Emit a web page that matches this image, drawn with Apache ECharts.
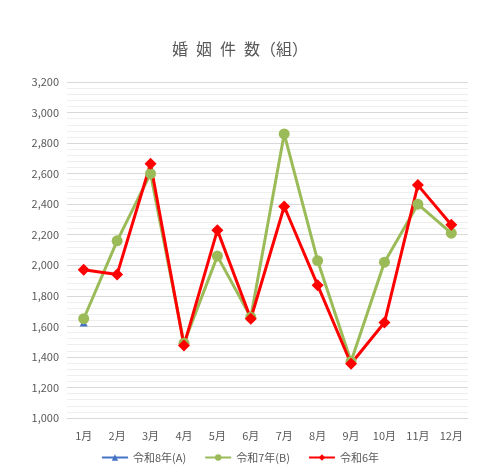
<!DOCTYPE html><html><head><meta charset="utf-8"><script src="https://cdn.jsdelivr.net/npm/echarts@6/dist/echarts.min.js"></script></head><body style="margin:0"><div id="c" style="width:480px;height:474px"></div><script>
const categories=['1月','2月','3月','4月','5月','6月','7月','8月','9月','10月','11月','12月'];
const r8=[1625,null,null,null,null,null,null,null,null,null,null,null];
const r7=[1650,2160,2600,1490,2060,1660,2860,2030,1370,2020,2400,2210];
const r6=[1970,1940,2665,1475,2230,1650,2385,1870,1355,1625,2525,2265];
const c=echarts.init(document.getElementById('c'));
const f="'Noto Sans CJK JP',sans-serif";
c.setOption({animation:false,textStyle:{fontFamily:f},
title:{text:'婚\u2002姻\u2002件\u2002数（組）',left:'center',top:36,textStyle:{fontSize:16,fontWeight:'normal',color:'#595959',fontFamily:f}},
legend:{bottom:6,itemGap:18,textStyle:{color:'#595959',fontSize:11},itemWidth:26,itemHeight:8},
grid:{left:67,right:12,top:82,bottom:56},
xAxis:{type:'category',data:categories,axisTick:{show:false},axisLine:{lineStyle:{color:'#d9d9d9'}},axisLabel:{color:'#595959',fontSize:11,margin:12}},
yAxis:{type:'value',min:1000,max:3200,interval:200,minorTick:{show:false,splitNumber:5},minorSplitLine:{show:true,lineStyle:{color:'#eeeeee'}},splitLine:{lineStyle:{color:'#d9d9d9'}},axisLabel:{color:'#595959',fontSize:11,formatter:v=>v.toLocaleString('en-US')}},
series:[
{name:'令和8年(A)',type:'line',data:r8,symbol:'triangle',symbolSize:8,itemStyle:{color:'#4472c4'},lineStyle:{width:3}},
{name:'令和7年(B)',type:'line',data:r7,symbol:'circle',symbolSize:11,itemStyle:{color:'#9bbb59'},lineStyle:{width:3}},
{name:'令和6年',type:'line',data:r6,symbol:'diamond',symbolSize:12,itemStyle:{color:'#ff0000'},lineStyle:{width:3}}
]});
</script></body></html>
